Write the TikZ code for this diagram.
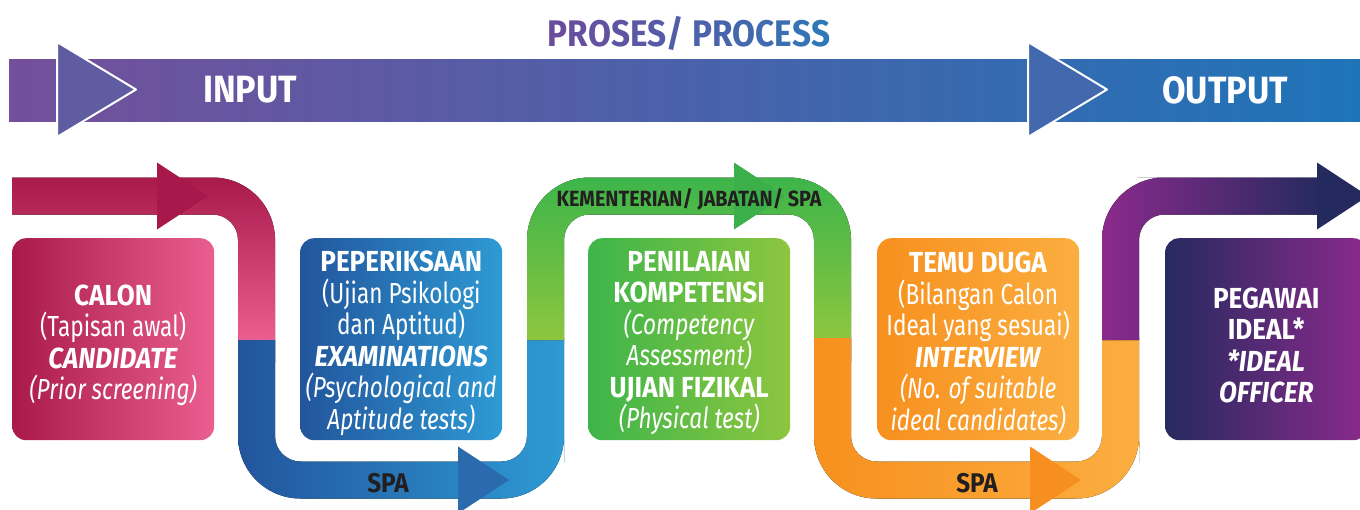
\documentclass[tikz,border=0pt]{standalone}
\usepackage{fontspec}
\setmainfont{Fira Sans}[
  UprightFeatures={FakeStretch=0.78},
  ItalicFeatures={FakeStretch=0.78},
  BoldFeatures={FakeStretch=0.9},
  BoldItalicFeatures={FakeStretch=0.9}]
\definecolor{banA}{HTML}{744F9B}
\definecolor{banB}{HTML}{1F74B8}
\definecolor{triL}{HTML}{5F5CA1}
\definecolor{triR}{HTML}{4268AE}
\definecolor{ttlA}{HTML}{6A4C9C}
\definecolor{ttlB}{HTML}{2F78B8}
\definecolor{pinkA}{HTML}{A91A4B}
\definecolor{pinkB}{HTML}{EA5F8F}
\definecolor{pinkH}{HTML}{A6194A}
\definecolor{blueA}{HTML}{22559C}
\definecolor{blueB}{HTML}{2E9AD4}
\definecolor{blueH}{HTML}{2B6AAC}
\definecolor{greenA}{HTML}{3DB54A}
\definecolor{greenB}{HTML}{8DC63F}
\definecolor{greenH}{HTML}{3AAF4A}
\definecolor{orA}{HTML}{F7901E}
\definecolor{orB}{HTML}{FBAE40}
\definecolor{orH}{HTML}{F68F1F}
\definecolor{purA}{HTML}{8B2A8C}
\definecolor{purB}{HTML}{262A5F}
\definecolor{purH}{HTML}{252A5E}
\definecolor{ink}{HTML}{231F20}
\tikzset{
  stagebox/.style={rounded corners=14pt, minimum width=202pt, minimum height=202pt,
    inner sep=0pt, anchor=north west},
  stagetext/.style={text=white, align=center, inner sep=0pt,
    font=\fontsize{29}{31.5}\selectfont},
  bandlabel/.style={text=ink, font=\bfseries\fontsize{27}{27}\selectfont, inner sep=0pt},
  phase/.style={text=white, font=\bfseries\fontsize{38}{38}\selectfont, inner sep=0pt},
  marker/.style={draw=white, line width=2pt, line join=round},
}
\begin{document}
\begin{tikzpicture}[x=1pt, y=-1pt]
\useasboundingbox (0,0) rectangle (1360,509);
\clip (0,0) rectangle (1360,509);

% title
\node[font=\bfseries\fontsize{37}{37}\selectfont, inner sep=0pt] (title) at (689,33)
  {\textcolor{ttlA}{P}\textcolor{ttlA!93!ttlB}{R}\textcolor{ttlA!86!ttlB}{O}%
   \textcolor{ttlA!79!ttlB}{S}\textcolor{ttlA!72!ttlB}{E}\textcolor{ttlA!65!ttlB}{S}%
   \textcolor{ttlA!58!ttlB}{/} \textcolor{ttlA!50!ttlB}{P}\textcolor{ttlA!43!ttlB}{R}%
   \textcolor{ttlA!36!ttlB}{O}\textcolor{ttlA!29!ttlB}{C}\textcolor{ttlA!22!ttlB}{E}%
   \textcolor{ttlA!12!ttlB}{S}\textcolor{ttlB}{S}};

% input / output banner
\fill[left color=banA, right color=banB] (9,59) rectangle (1360,121);
\filldraw[marker, fill=triL] (57,42) -- (136,89.5) -- (57,137) -- cycle;
\filldraw[marker, fill=triR] (1028,42) -- (1107,89.5) -- (1028,137) -- cycle;
\node[phase] (input) at (250,90) {INPUT};
\node[phase] (output) at (1225,90) {OUTPUT};

% winding band, one colour per stage
\fill[top color=pinkA, bottom color=pinkB]
  (12,177.5) -- (100,177.5) [rounded corners=62.5pt] -- (275,177.5) -- (275,300)
  [sharp corners] -- (275,340) -- (238,340) -- (238,300)
  [rounded corners=25.5pt] -- (238,214.5) -- (100,214.5)
  [sharp corners] -- (12,214.5) -- cycle;
\fill[left color=blueA, right color=blueB]
  (238,340) -- (238,400) [rounded corners=62.5pt] -- (238,498.5) -- (564,498.5) -- (564,400)
  [sharp corners] -- (564,340) -- (527,340) -- (527,400)
  [rounded corners=25.5pt] -- (527,461.5) -- (275,461.5) -- (275,400)
  [sharp corners] -- (275,340) -- cycle;
\fill[top color=greenA, bottom color=greenB]
  (527,340) -- (527,300) [rounded corners=62.5pt] -- (527,177.5) -- (851,177.5) -- (851,300)
  [sharp corners] -- (851,338) -- (814,338) -- (814,300)
  [rounded corners=25.5pt] -- (814,214.5) -- (564,214.5) -- (564,300)
  [sharp corners] -- (564,340) -- cycle;
\fill[left color=orA, right color=orB]
  (814,338) -- (814,400) [rounded corners=62.5pt] -- (814,498.5) -- (1139,498.5) -- (1139,400)
  [sharp corners] -- (1139,340) -- (1102,340) -- (1102,400)
  [rounded corners=25.5pt] -- (1102,461.5) -- (851,461.5) -- (851,400)
  [sharp corners] -- (851,338) -- cycle;
\fill[left color=purA, right color=purB]
  (1102,340) -- (1102,300) [rounded corners=62.5pt] -- (1102,177.5) -- (1200,177.5)
  [sharp corners] -- (1320,177.5) -- (1320,214.5) -- (1200,214.5)
  [rounded corners=25.5pt] -- (1139,214.5) -- (1139,300)
  [sharp corners] -- (1139,340) -- cycle;

% arrow heads along the band
\fill[pinkH] (157,162.5) -- (208,196) -- (157,229.5) -- cycle;
\fill[blueH] (458,446.5) -- (509,480) -- (458,513.5) -- cycle;
\fill[greenH] (734,162.5) -- (785,196) -- (734,229.5) -- cycle;
\fill[orH] (1030,446.5) -- (1081,480) -- (1030,513.5) -- cycle;
\fill[purH] (1317,162.5) -- (1368,196) -- (1317,229.5) -- cycle;

% band labels
\node[bandlabel] (spa1) at (388,483) {SPA};
\node[bandlabel, font=\bfseries\fontsize{22}{22}\selectfont] (kjs) at (689,199) {KEMENTERIAN/ JABATAN/ SPA};
\node[bandlabel] (spa2) at (977,483) {SPA};

% stage boxes
\node[stagebox, left color=pinkA, right color=pinkB] (calon) at (12,238) {};
\node[stagebox, left color=blueA, right color=blueB] (periksa) at (300,238) {};
\node[stagebox, left color=greenA, right color=greenB] (nilai) at (588,238) {};
\node[stagebox, left color=orA, right color=orB] (temu) at (877,238) {};
\node[stagebox, left color=purB, right color=purA] (pegawai) at (1165,238) {};

% stage texts
\node[stagetext, yshift=-6pt] (calonT) at (calon.center)
  {\textbf{CALON}\\(Tapisan awal)\\\textbf{\textit{CANDIDATE}}\\\textit{(Prior screening)}};
\node[stagetext, yshift=-4pt] (periksaT) at (periksa.center)
  {\textbf{PEPERIKSAAN}\\(Ujian Psikologi\\dan Aptitud)\\\textbf{\textit{EXAMINATIONS}}\\\textit{(Psychological and}\\\textit{Aptitude tests)}};
\node[stagetext, yshift=-4pt] (nilaiT) at (nilai.center)
  {\textbf{PENILAIAN}\\\textbf{KOMPETENSI}\\\textit{(Competency}\\\textit{Assessment)}\\\textbf{UJIAN FIZIKAL}\\\textit{(Physical test)}};
\node[stagetext, yshift=-4pt] (temuT) at (temu.center)
  {\textbf{TEMU DUGA}\\(Bilangan Calon\\Ideal yang sesuai)\\\textbf{\textit{INTERVIEW}}\\\textit{(No. of suitable}\\\textit{ideal candidates)}};
\node[stagetext, yshift=-6pt] (pegawaiT) at (pegawai.center)
  {\textbf{PEGAWAI}\\\textbf{IDEAL*}\\\textbf{\textit{*IDEAL}}\\\textbf{\textit{OFFICER}}};
\end{tikzpicture}
\end{document}
